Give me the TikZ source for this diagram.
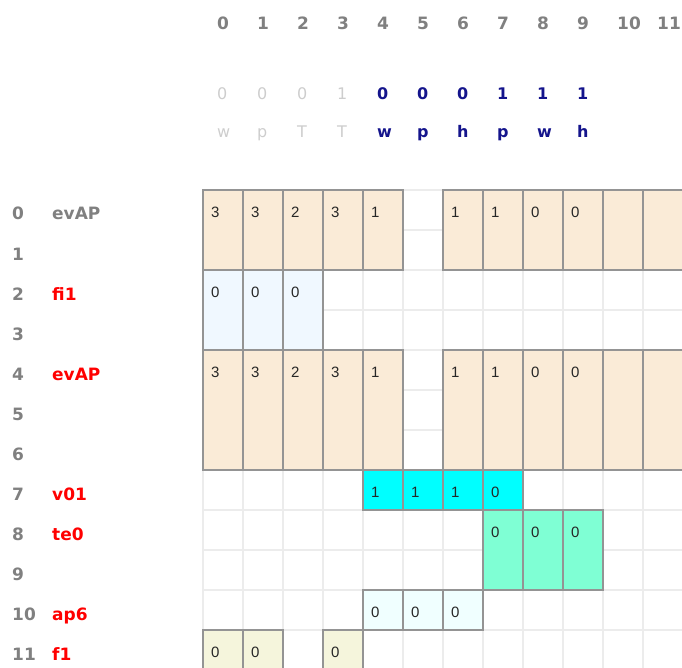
\documentclass[tikz,border=0pt]{standalone}
\usepackage{fontspec}
\setmainfont{DejaVu Sans}
\newfontfamily\cellfont{Liberation Sans}
\usetikzlibrary{positioning}
\definecolor{antiquewhite}{RGB}{250,235,215}
\definecolor{aliceblue}{RGB}{240,248,255}
\definecolor{aquacell}{RGB}{0,255,255}
\definecolor{aquamarine}{RGB}{127,255,212}
\definecolor{azurecell}{RGB}{240,255,255}
\definecolor{beigecell}{RGB}{245,245,220}
\definecolor{headgray}{RGB}{128,128,128}
\definecolor{lightgray}{RGB}{205,205,205}
\definecolor{headblue}{RGB}{20,20,140}
\definecolor{gridgray}{RGB}{236,236,236}

\begin{document}
\begin{tikzpicture}[
        x=1pt, y=-1pt, % pixel coordinates, origin top left
        gridline/.style={draw=gridgray, line width=1.6pt},
        colhead/.style={anchor=base west, inner sep=0pt, font=\fontsize{17}{17}\selectfont\bfseries, text=headgray},
        bithead/.style={anchor=base west, inner sep=0pt, font=\fontsize{16}{16}\selectfont\bfseries, text=headblue},
        offhead/.style={anchor=base west, inner sep=0pt, font=\fontsize{16}{16}\selectfont, text=lightgray},
        rowhead/.style={anchor=base west, inner sep=0pt, font=\fontsize{17}{17}\selectfont\bfseries, text=headgray},
        rowname/.style={anchor=base west, inner sep=0pt, font=\fontsize{17}{17}\selectfont\bfseries, text=red},
        cellbox/.style={draw=black!42, line width=1.3pt, rectangle, inner sep=0pt, outer sep=0pt, minimum width=40pt, anchor=north west},
        cellval/.style={anchor=base west, inner sep=0pt, font=\cellfont\fontsize{15}{15}\selectfont, text=black!85}
    ]
        \useasboundingbox (0,0) rectangle (682,668);
        \clip (0,0) rectangle (682,668);

        % --- background grid ---
        \foreach \k in {0,...,12} {
            \draw[gridline] ({203+40*\k},190) -- ({203+40*\k},668);
            \draw[gridline] (203,{190+40*\k}) -- (682,{190+40*\k});
        }

        % --- column headers ---
        \foreach \c in {0,...,11}
            \node[colhead] (col\c) at ({203+40*\c+14},30) {\c};
        \foreach \c/\b/\l in {0/0/w,1/0/p,2/0/T,3/1/T} {
            \node[offhead] (bit\c) at ({203+40*\c+14},100) {\b};
            \node[offhead] (sym\c) at ({203+40*\c+14},138) {\l};
        }
        \foreach \c/\b/\l in {4/0/w,5/0/p,6/0/h,7/1/p,8/1/w,9/1/h} {
            \node[bithead] (bit\c) at ({203+40*\c+14},100) {\b};
            \node[bithead] (sym\c) at ({203+40*\c+14},138) {\l};
        }

        % --- row headers ---
        \foreach \r in {0,...,11}
            \node[rowhead] (row\r) at (12,{190+40*\r+30}) {\r};
        \node[rowname, text=headgray] (name0) at (52,220) {evAP};
        \foreach \r/\n in {2/fi1,4/evAP,7/v01,8/te0,10/ap6,11/f1}
            \node[rowname] (name\r) at (52,{190+40*\r+30}) {\n};

        % --- evAP, rows 0-1 ---
        \foreach \c/\v in {0/3,1/3,2/2,3/3,4/1,6/1,7/1,8/0,9/0,10/{},11/{}} {
            \node[cellbox, fill=antiquewhite, minimum height=80pt] (ea\c) at ({203+40*\c},190) {};
            \node[cellval] (ea\c-v) at ([xshift=8pt,yshift=-27.5pt]ea\c.north west) {\v};
        }

        % --- fi1, rows 2-3 ---
        \foreach \c in {0,1,2} {
            \node[cellbox, fill=aliceblue, minimum height=80pt] (fi\c) at ({203+40*\c},270) {};
            \node[cellval] (fi\c-v) at ([xshift=8pt,yshift=-27.5pt]fi\c.north west) {0};
        }

        % --- evAP, rows 4-6 ---
        \foreach \c/\v in {0/3,1/3,2/2,3/3,4/1,6/1,7/1,8/0,9/0,10/{},11/{}} {
            \node[cellbox, fill=antiquewhite, minimum height=120pt] (eb\c) at ({203+40*\c},350) {};
            \node[cellval] (eb\c-v) at ([xshift=8pt,yshift=-27.5pt]eb\c.north west) {\v};
        }

        % --- v01, row 7 ---
        \foreach \c/\v in {4/1,5/1,6/1,7/0} {
            \node[cellbox, fill=aquacell, minimum height=40pt] (vo\c) at ({203+40*\c},470) {};
            \node[cellval] (vo\c-v) at ([xshift=8pt,yshift=-27.5pt]vo\c.north west) {\v};
        }

        % --- te0, rows 8-9 ---
        \foreach \c in {7,8,9} {
            \node[cellbox, fill=aquamarine, minimum height=80pt] (te\c) at ({203+40*\c},510) {};
            \node[cellval] (te\c-v) at ([xshift=8pt,yshift=-27.5pt]te\c.north west) {0};
        }

        % --- ap6, row 10 ---
        \foreach \c in {4,5,6} {
            \node[cellbox, fill=azurecell, minimum height=40pt] (ap\c) at ({203+40*\c},590) {};
            \node[cellval] (ap\c-v) at ([xshift=8pt,yshift=-27.5pt]ap\c.north west) {0};
        }

        % --- f1, row 11 ---
        \foreach \c in {0,1,3} {
            \node[cellbox, fill=beigecell, minimum height=40pt] (fo\c) at ({203+40*\c},630) {};
            \node[cellval] (fo\c-v) at ([xshift=8pt,yshift=-27.5pt]fo\c.north west) {0};
        }
    \end{tikzpicture}
\end{document}
